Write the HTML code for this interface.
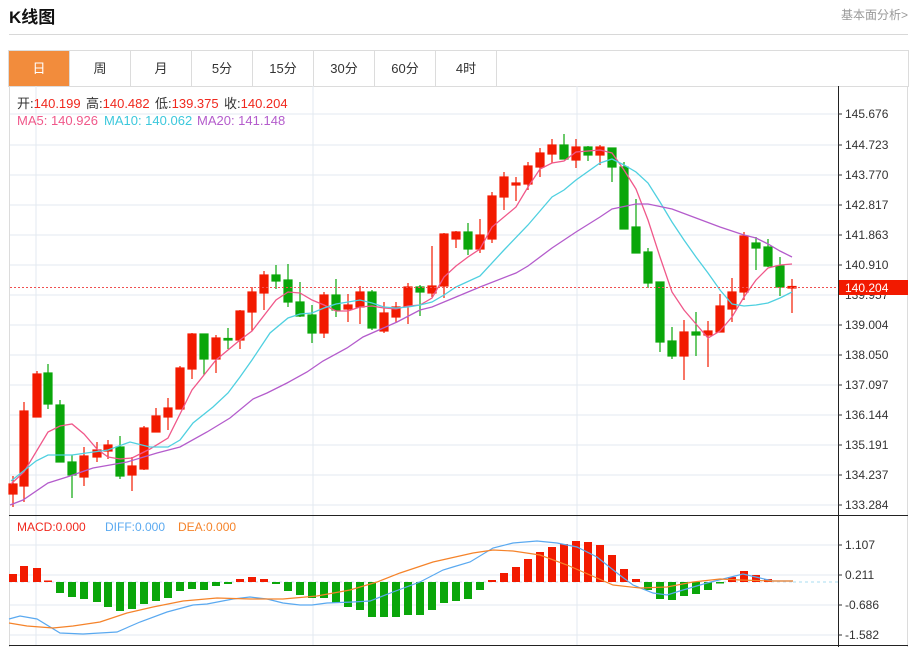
<!DOCTYPE html>
<html><head><meta charset="utf-8"><style>
body{margin:0;background:#fff;width:917px;height:649px;overflow:hidden;font-family:"Liberation Sans","Noto Sans CJK SC",sans-serif;position:relative}
.t{position:absolute;left:9px;top:3px;font-size:17px;font-weight:bold;color:#111}
.r{position:absolute;right:9px;top:6px;font-size:12px;color:#999}
.hl{position:absolute;left:9px;top:34px;width:899px;height:1px;background:#d8d8d8}
.tabs{position:absolute;left:8px;top:50px;width:899px;height:35px;border:1px solid #dcdcdc;display:flex}
.tabs div{width:60px;border-right:1px solid #dcdcdc;text-align:center;line-height:35px;font-size:13px;color:#333}
.tabs div.a{background:#f28c3c;color:#fff}
</style></head><body>
<div class="t">K线图</div><div class="r">基本面分析&gt;</div><div class="hl"></div>
<div class="tabs"><div class="a">日</div><div>周</div><div>月</div><div>5分</div><div>15分</div><div>30分</div><div>60分</div><div>4时</div></div>
<svg width="917" height="649" style="position:absolute;left:0;top:0" font-family="Liberation Sans, Noto Sans CJK SC, sans-serif">
<g stroke="#e3eaf0" stroke-width="1">
<line x1="9" y1="114" x2="838" y2="114"/><line x1="9" y1="145" x2="838" y2="145"/><line x1="9" y1="175" x2="838" y2="175"/><line x1="9" y1="205" x2="838" y2="205"/><line x1="9" y1="235" x2="838" y2="235"/><line x1="9" y1="265" x2="838" y2="265"/><line x1="9" y1="295" x2="838" y2="295"/><line x1="9" y1="325" x2="838" y2="325"/><line x1="9" y1="355" x2="838" y2="355"/><line x1="9" y1="385" x2="838" y2="385"/><line x1="9" y1="415" x2="838" y2="415"/><line x1="9" y1="445" x2="838" y2="445"/><line x1="9" y1="475" x2="838" y2="475"/><line x1="9" y1="505" x2="838" y2="505"/>
<line x1="9" y1="545" x2="838" y2="545"/><line x1="9" y1="575" x2="838" y2="575"/><line x1="9" y1="605" x2="838" y2="605"/><line x1="9" y1="635" x2="838" y2="635"/>
<line x1="36" y1="86" x2="36" y2="645"/><line x1="313" y1="86" x2="313" y2="645"/><line x1="577" y1="86" x2="577" y2="645"/>
</g>
<line x1="9.5" y1="86" x2="9.5" y2="647" stroke="#dcdcdc"/>
<line x1="907.5" y1="86" x2="907.5" y2="647" stroke="#dcdcdc"/>
<line x1="9" y1="515.5" x2="908" y2="515.5" stroke="#222"/>
<line x1="9" y1="645.5" x2="908" y2="645.5" stroke="#222"/>
<line x1="838.5" y1="86" x2="838.5" y2="647" stroke="#222"/>
<g font-size="12" fill="#333">
<text x="845" y="118">145.676</text><text x="845" y="149">144.723</text><text x="845" y="179">143.770</text><text x="845" y="209">142.817</text><text x="845" y="239">141.863</text><text x="845" y="269">140.910</text><text x="845" y="299">139.957</text><text x="845" y="329">139.004</text><text x="845" y="359">138.050</text><text x="845" y="389">137.097</text><text x="845" y="419">136.144</text><text x="845" y="449">135.191</text><text x="845" y="479">134.237</text><text x="845" y="509">133.284</text>
<text x="845" y="549">1.107</text><text x="845" y="579">0.211</text><text x="845" y="609">-0.686</text><text x="845" y="639">-1.582</text>
</g>
<g stroke="#333"><line x1="838" y1="114" x2="842" y2="114"/><line x1="838" y1="145" x2="842" y2="145"/><line x1="838" y1="175" x2="842" y2="175"/><line x1="838" y1="205" x2="842" y2="205"/><line x1="838" y1="235" x2="842" y2="235"/><line x1="838" y1="265" x2="842" y2="265"/><line x1="838" y1="325" x2="842" y2="325"/><line x1="838" y1="355" x2="842" y2="355"/><line x1="838" y1="385" x2="842" y2="385"/><line x1="838" y1="415" x2="842" y2="415"/><line x1="838" y1="445" x2="842" y2="445"/><line x1="838" y1="475" x2="842" y2="475"/><line x1="838" y1="505" x2="842" y2="505"/><line x1="838" y1="545" x2="842" y2="545"/><line x1="838" y1="575" x2="842" y2="575"/><line x1="838" y1="605" x2="842" y2="605"/><line x1="838" y1="635" x2="842" y2="635"/></g>
<g font-size="13">
<text x="17" y="108" fill="#333">开:<tspan fill="#f0281e">140.199</tspan></text>
<text x="86" y="108" fill="#333">高:<tspan fill="#f0281e">140.482</tspan></text>
<text x="155" y="108" fill="#333">低:<tspan fill="#f0281e">139.375</tspan></text>
<text x="224" y="108" fill="#333">收:<tspan fill="#f0281e">140.204</tspan></text>
<text x="17" y="125" fill="#f0588a">MA5: 140.926</text><text x="104" y="125" fill="#3cc8dc">MA10: 140.062</text><text x="197" y="125" fill="#b45ccc">MA20: 141.148</text>
<text x="17" y="531" fill="#f0281e" font-size="12">MACD:0.000</text><text x="105" y="531" fill="#5aa9f0" font-size="12">DIFF:0.000</text><text x="178" y="531" fill="#f5832a" font-size="12">DEA:0.000</text>
</g>
<g stroke-width="1.2">
<g stroke="#f21a00" fill="#f21a00">
<line x1="13" y1="476" x2="13" y2="507"/><rect x="9" y="484" width="8" height="10"/>
<line x1="24" y1="402" x2="24" y2="502"/><rect x="20" y="411" width="8" height="75"/>
<line x1="37" y1="371" x2="37" y2="417"/><rect x="33" y="374" width="8" height="43"/>
<line x1="84" y1="447" x2="84" y2="486"/><rect x="80" y="456" width="8" height="21"/>
<line x1="97" y1="442" x2="97" y2="462"/><rect x="93" y="450" width="8" height="7"/>
<line x1="108" y1="440" x2="108" y2="459"/><rect x="104" y="445" width="8" height="6"/>
<line x1="132" y1="457" x2="132" y2="491"/><rect x="128" y="466" width="8" height="9"/>
<line x1="144" y1="426" x2="144" y2="470"/><rect x="140" y="428" width="8" height="41"/>
<line x1="156" y1="408" x2="156" y2="432"/><rect x="152" y="416" width="8" height="16"/>
<line x1="168" y1="398" x2="168" y2="430"/><rect x="164" y="408" width="8" height="9"/>
<line x1="180" y1="366" x2="180" y2="409"/><rect x="176" y="368" width="8" height="41"/>
<line x1="192" y1="333" x2="192" y2="379"/><rect x="188" y="334" width="8" height="35"/>
<line x1="216" y1="335" x2="216" y2="373"/><rect x="212" y="338" width="8" height="21"/>
<line x1="240" y1="310" x2="240" y2="349"/><rect x="236" y="311" width="8" height="29"/>
<line x1="252" y1="287" x2="252" y2="331"/><rect x="248" y="292" width="8" height="20"/>
<line x1="264" y1="271" x2="264" y2="310"/><rect x="260" y="275" width="8" height="18"/>
<line x1="324" y1="292" x2="324" y2="338"/><rect x="320" y="295" width="8" height="38"/>
<line x1="348" y1="294" x2="348" y2="322"/><rect x="344" y="305" width="8" height="4"/>
<line x1="360" y1="286" x2="360" y2="324"/><rect x="356" y="292" width="8" height="15"/>
<line x1="384" y1="302" x2="384" y2="333"/><rect x="380" y="313" width="8" height="18"/>
<line x1="396" y1="302" x2="396" y2="323"/><rect x="392" y="307" width="8" height="10"/>
<line x1="408" y1="283" x2="408" y2="324"/><rect x="404" y="287" width="8" height="19"/>
<line x1="432" y1="246" x2="432" y2="297"/><rect x="428" y="286" width="8" height="7"/>
<line x1="444" y1="233" x2="444" y2="298"/><rect x="440" y="234" width="8" height="52"/>
<line x1="456" y1="231" x2="456" y2="248"/><rect x="452" y="232" width="8" height="7"/>
<line x1="480" y1="219" x2="480" y2="253"/><rect x="476" y="235" width="8" height="14"/>
<line x1="492" y1="192" x2="492" y2="243"/><rect x="488" y="196" width="8" height="43"/>
<line x1="504" y1="172" x2="504" y2="210"/><rect x="500" y="177" width="8" height="20"/>
<line x1="516" y1="177" x2="516" y2="201"/><rect x="512" y="183" width="8" height="2"/>
<line x1="528" y1="162" x2="528" y2="190"/><rect x="524" y="166" width="8" height="18"/>
<line x1="540" y1="148" x2="540" y2="177"/><rect x="536" y="153" width="8" height="14"/>
<line x1="552" y1="139" x2="552" y2="163"/><rect x="548" y="145" width="8" height="9"/>
<line x1="576" y1="139" x2="576" y2="168"/><rect x="572" y="147" width="8" height="13"/>
<line x1="600" y1="145" x2="600" y2="165"/><rect x="596" y="147" width="8" height="8"/>
<line x1="684" y1="320" x2="684" y2="380"/><rect x="680" y="332" width="8" height="24"/>
<line x1="708" y1="321" x2="708" y2="367"/><rect x="704" y="331" width="8" height="4"/>
<line x1="720" y1="294" x2="720" y2="332"/><rect x="716" y="306" width="8" height="26"/>
<line x1="732" y1="278" x2="732" y2="322"/><rect x="728" y="292" width="8" height="17"/>
<line x1="744" y1="232" x2="744" y2="300"/><rect x="740" y="236" width="8" height="56"/>
<line x1="792" y1="279" x2="792" y2="313"/><rect x="788" y="286.5" width="8" height="1.5"/>
</g>
<g stroke="#0aa60a" fill="#0aa60a">
<line x1="48" y1="364" x2="48" y2="409"/><rect x="44" y="373" width="8" height="31"/>
<line x1="60" y1="400" x2="60" y2="462"/><rect x="56" y="405" width="8" height="57"/>
<line x1="72" y1="455" x2="72" y2="498"/><rect x="68" y="462" width="8" height="13"/>
<line x1="120" y1="436" x2="120" y2="479"/><rect x="116" y="447" width="8" height="29"/>
<line x1="204" y1="334" x2="204" y2="375"/><rect x="200" y="334" width="8" height="25"/>
<line x1="228" y1="328" x2="228" y2="349"/><rect x="224" y="338.5" width="8" height="1.5"/>
<line x1="276" y1="265" x2="276" y2="289"/><rect x="272" y="275" width="8" height="6"/>
<line x1="288" y1="264" x2="288" y2="307"/><rect x="284" y="280" width="8" height="22"/>
<line x1="300" y1="282" x2="300" y2="317"/><rect x="296" y="302" width="8" height="14"/>
<line x1="312" y1="305" x2="312" y2="343"/><rect x="308" y="315" width="8" height="18"/>
<line x1="336" y1="279" x2="336" y2="317"/><rect x="332" y="295" width="8" height="15"/>
<line x1="372" y1="290" x2="372" y2="330"/><rect x="368" y="292" width="8" height="36"/>
<line x1="420" y1="285" x2="420" y2="316"/><rect x="416" y="287" width="8" height="5"/>
<line x1="468" y1="223" x2="468" y2="255"/><rect x="464" y="232" width="8" height="17"/>
<line x1="564" y1="134" x2="564" y2="159"/><rect x="560" y="145" width="8" height="14"/>
<line x1="588" y1="146" x2="588" y2="161"/><rect x="584" y="147" width="8" height="8"/>
<line x1="612" y1="148" x2="612" y2="182"/><rect x="608" y="148" width="8" height="19"/>
<line x1="624" y1="162" x2="624" y2="229"/><rect x="620" y="167" width="8" height="62"/>
<line x1="636" y1="199" x2="636" y2="253"/><rect x="632" y="227" width="8" height="26"/>
<line x1="648" y1="248" x2="648" y2="288"/><rect x="644" y="252" width="8" height="31"/>
<line x1="660" y1="282" x2="660" y2="352"/><rect x="656" y="282" width="8" height="60"/>
<line x1="672" y1="327" x2="672" y2="359"/><rect x="668" y="341" width="8" height="15"/>
<line x1="696" y1="312" x2="696" y2="356"/><rect x="692" y="332" width="8" height="3"/>
<line x1="756" y1="237" x2="756" y2="270"/><rect x="752" y="243" width="8" height="5"/>
<line x1="768" y1="239" x2="768" y2="267"/><rect x="764" y="247" width="8" height="19"/>
<line x1="780" y1="257" x2="780" y2="296"/><rect x="776" y="266" width="8" height="21"/>
</g>
</g>
<g fill="none" stroke-width="1.3">
<polyline stroke="#f0588a" points="11,484 24,472 48,432 60,426 72,424 84,434 97,449 108,457 120,459 132,458 150,449 168,438 192,390 216,360 240,340 252,331 276,300 288,292 300,293 312,300 324,305 336,311 348,311 360,307 372,306 384,308 396,309 408,306 420,305 432,298 444,277 456,266 468,257 480,249 492,227 516,207 528,187 540,169 552,163 564,161 576,152 588,151 600,150 612,153 624,170 636,189 648,220 660,257 672,292 684,310 696,324 708,338 720,331 732,317 744,297 756,280 768,268 780,265 792,264"/>
<polyline stroke="#4fd0e0" points="11,481 36,461 48,455 72,455 108,450 130,442 150,447 168,447 180,440 193,423 213,407 228,393 240,377 252,360 270,333 288,318 300,314 312,313 324,308 336,304 360,300 372,303 384,307 396,308 408,307 420,305 432,302 444,295 456,287 480,276 504,250 528,225 552,197 564,190 576,180 600,163 612,159 624,165 636,172 648,183 660,202 672,222 684,240 696,257 708,273 720,290 732,304 744,306 756,305 768,303 780,298 792,292"/>
<polyline stroke="#b45ccc" points="10,505 23,500 48,483 67,477 93,468 127,462 157,453 180,447 207,432 230,418 253,399 267,393 287,383 307,372 323,361 347,348 363,337 397,322 420,310 432,307 456,297 480,287 516,273 528,266 552,248 576,232 600,217 612,209 636,204 648,204 672,209 696,218 720,227 744,235 756,238 768,244 780,251 792,257"/>
</g>
<line x1="10" y1="287.5" x2="838" y2="287.5" stroke="#f05050" stroke-dasharray="2,2"/>
<rect x="839" y="280" width="69" height="15" fill="#f21a00"/>
<text x="845" y="292" font-size="12" fill="#fff">140.204</text>
<line x1="793" y1="582" x2="838" y2="582" stroke="#a8dcf0" stroke-dasharray="3,3"/>
<line x1="9" y1="582" x2="793" y2="582" stroke="#cde" stroke-dasharray="3,3"/>
<g fill="#f21a00">
<rect x="9" y="574" width="8" height="8"/><rect x="20" y="566" width="8" height="16"/><rect x="33" y="568" width="8" height="14"/><rect x="44" y="580.5" width="8" height="1.5"/>
<rect x="236" y="579" width="8" height="3"/><rect x="248" y="577" width="8" height="5"/><rect x="260" y="579" width="8" height="3"/>
<rect x="488" y="580" width="8" height="2"/><rect x="500" y="573" width="8" height="9"/><rect x="512" y="567" width="8" height="15"/><rect x="524" y="559" width="8" height="23"/><rect x="536" y="552" width="8" height="30"/><rect x="548" y="547" width="8" height="35"/><rect x="560" y="544" width="8" height="38"/><rect x="572" y="541" width="8" height="41"/><rect x="584" y="542" width="8" height="40"/><rect x="596" y="545" width="8" height="37"/><rect x="608" y="555" width="8" height="27"/><rect x="620" y="569" width="8" height="13"/><rect x="632" y="579" width="8" height="3"/>
<rect x="728" y="577" width="8" height="5"/><rect x="740" y="571" width="8" height="11"/><rect x="752" y="575" width="8" height="7"/><rect x="764" y="579" width="8" height="3"/>
</g>
<g fill="#0aa60a">
<rect x="56" y="582" width="8" height="11"/><rect x="68" y="582" width="8" height="15"/><rect x="80" y="582" width="8" height="17"/><rect x="93" y="582" width="8" height="20"/><rect x="104" y="582" width="8" height="25"/><rect x="116" y="582" width="8" height="29"/><rect x="128" y="582" width="8" height="27"/><rect x="140" y="582" width="8" height="22"/><rect x="152" y="582" width="8" height="19"/><rect x="164" y="582" width="8" height="16"/><rect x="176" y="582" width="8" height="9"/><rect x="188" y="582" width="8" height="7"/><rect x="200" y="582" width="8" height="8"/><rect x="212" y="582" width="8" height="4"/><rect x="224" y="582" width="8" height="2"/>
<rect x="272" y="582" width="8" height="2"/><rect x="284" y="582" width="8" height="9"/><rect x="296" y="582" width="8" height="13"/><rect x="308" y="582" width="8" height="16"/><rect x="320" y="582" width="8" height="16"/><rect x="332" y="582" width="8" height="21"/><rect x="344" y="582" width="8" height="25"/><rect x="356" y="582" width="8" height="28"/><rect x="368" y="582" width="8" height="35"/><rect x="380" y="582" width="8" height="35"/><rect x="392" y="582" width="8" height="35"/><rect x="404" y="582" width="8" height="33"/><rect x="416" y="582" width="8" height="33"/><rect x="428" y="582" width="8" height="28"/><rect x="440" y="582" width="8" height="21"/><rect x="452" y="582" width="8" height="19"/><rect x="464" y="582" width="8" height="17"/><rect x="476" y="582" width="8" height="8"/>
<rect x="644" y="582" width="8" height="8"/><rect x="656" y="582" width="8" height="17"/><rect x="668" y="582" width="8" height="18"/><rect x="680" y="582" width="8" height="14"/><rect x="692" y="582" width="8" height="12"/><rect x="704" y="582" width="8" height="8"/><rect x="716" y="582" width="8" height="1.5"/>
</g>
<g fill="none" stroke-width="1.2">
<polyline stroke="#5aa9f0" points="9,619 20,616 37,619 60,633 83,634 117,632 140,622 167,612 193,605 207,604 233,599 250,597 267,599 283,603 300,605 312,605 327,603 353,602 370,601 393,592 420,582 443,570 453,567 470,562 493,548 513,543 537,541 557,543 577,547 597,557 617,573 633,585 653,593 667,595 683,590 707,583 727,578 743,574 760,578 773,581 793,581"/>
<polyline stroke="#f5832a" points="9,623 27,626 53,628 73,626 100,622 127,613 153,607 183,601 217,598 250,599 283,599 317,596 350,590 377,582 400,573 433,562 473,553 493,550 513,551 540,555 567,565 590,575 613,585 640,588 667,587 693,582 720,579 740,580 773,581 793,581"/>
</g>
</svg>
</body></html>
